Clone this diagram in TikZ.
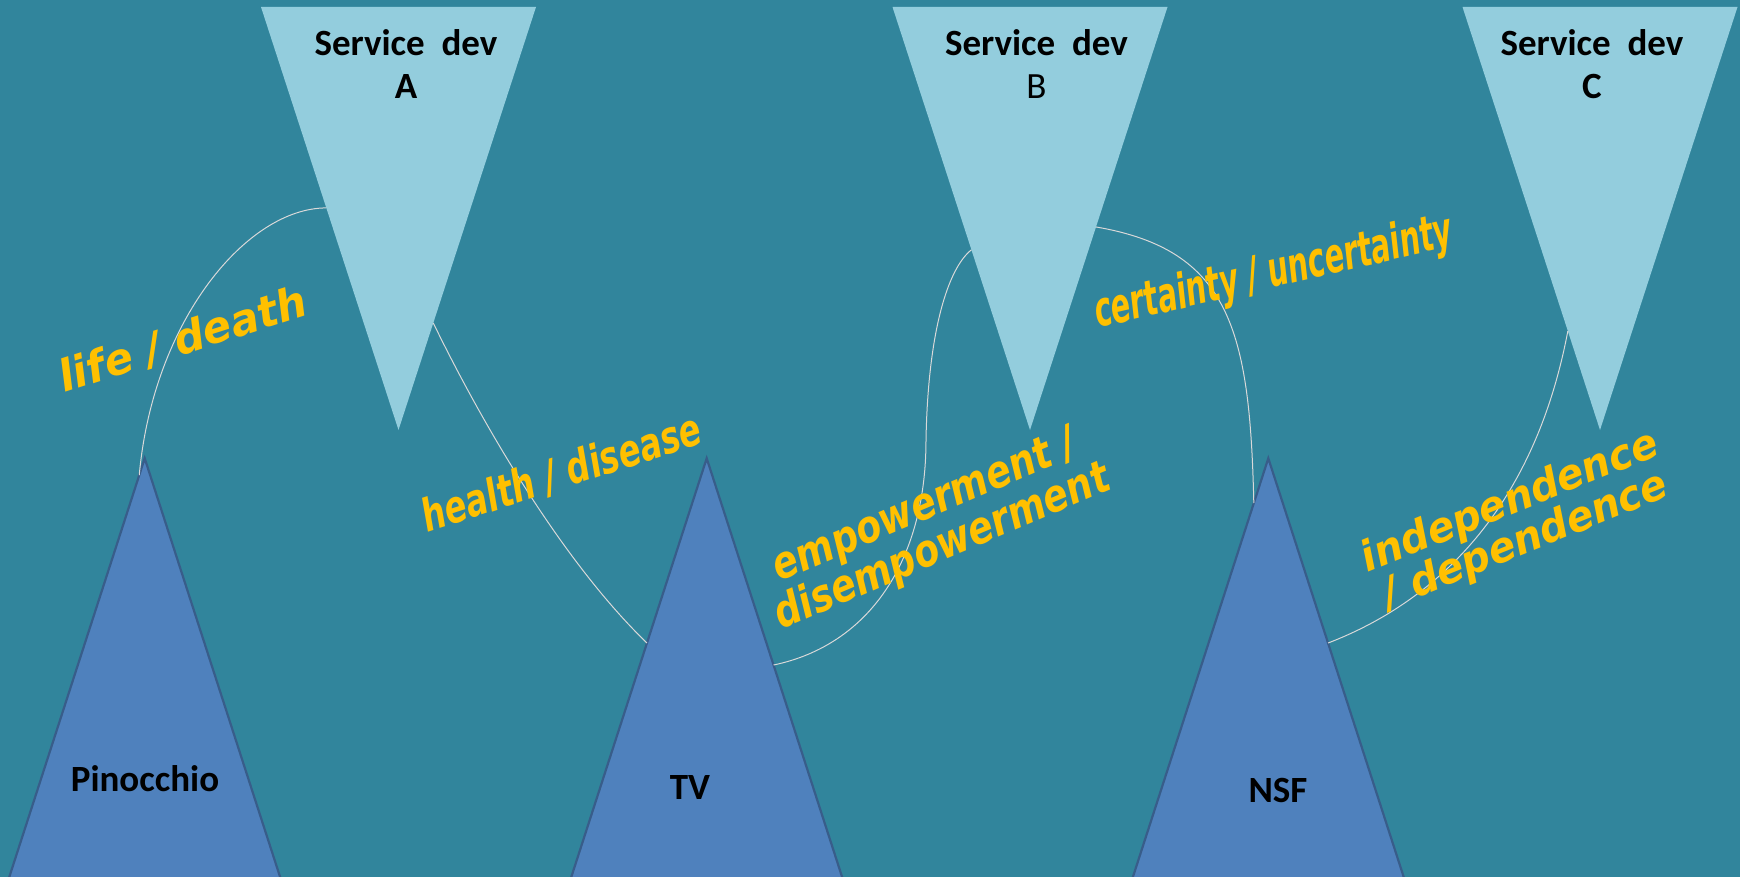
\documentclass[tikz,border=0pt]{standalone}
\usepackage{fontspec}
\setmainfont{Carlito}
\newfontfamily\wordart{DejaVu Sans}
\usetikzlibrary{calc}

\definecolor{sea}{HTML}{31859C}
\definecolor{ice}{HTML}{93CDDD}
\definecolor{steel}{HTML}{4F81BD}
\definecolor{steelline}{HTML}{385D8A}
\definecolor{gold}{HTML}{FFC000}
\definecolor{thread}{HTML}{D9D9D9}

\begin{document}
\begin{tikzpicture}[x=1pt, y=-1pt, inner sep=0pt]


\tikzstyle{downtri} = [fill=ice]
\tikzstyle{uptri} = [fill=steel, draw=steelline, line width=2.2pt]
\tikzstyle{link} = [draw=thread, line width=1pt]
\tikzstyle{devlabel} = [align=center, anchor=north, font=\fontsize{37}{43}\selectfont\bfseries]
\tikzstyle{baselabel} = [anchor=base, font=\fontsize{37}{43}\selectfont\bfseries]
\tikzstyle{pair} = [text=gold, align=center, font=\wordart\fontsize{38}{31.5}\selectfont\bfseries\itshape]

\useasboundingbox (0,0) rectangle (1740,877);
\fill[sea] (0,0) rectangle (1740,877);

% service development
\path[downtri] (261,7) coordinate (A tl) -- (536,7) coordinate (A tr) -- (398.5,430) coordinate (A tip) -- cycle;
\path[downtri] (892.5,7) coordinate (B tl) -- (1167.5,7) coordinate (B tr) -- (1030,430) coordinate (B tip) -- cycle;
\path[downtri] (1462.5,7) coordinate (C tl) -- (1737.5,7) coordinate (C tr) -- (1600,430) coordinate (C tip) -- cycle;

% cases
\path[uptri] (144.7,458.3) coordinate (pin top) -- (281.4,881) coordinate (pin br) -- (8,881) coordinate (pin bl) -- cycle;
\path[uptri] (706.7,458.3) coordinate (tv top) -- (843.4,881) coordinate (tv br) -- (570,881) coordinate (tv bl) -- cycle;
\path[uptri] (1268.3,458.3) coordinate (nsf top) -- (1405,881) coordinate (nsf br) -- (1131.6,881) coordinate (nsf bl) -- cycle;

\coordinate (empower bend) at (926,440);

\draw[link] ($(pin top)!0.04!(pin bl)$) .. controls +(14,-155) and +(-79,0) .. ($(A tl)!0.475!(A tip)$);
\draw[link] ($(A tr)!0.747!(A tip)$) .. controls +(47,97) and +(-86,-83) .. ($(tv top)!0.437!(tv bl)$);
\draw[link] ($(tv top)!0.489!(tv br)$) .. controls +(96,-20) and +(0,120) .. (empower bend)
  .. controls +(2,-110) and +(-23,18) .. ($(B tl)!0.574!(B tip)$);
\draw[link] ($(B tr)!0.52!(B tip)$) .. controls +(134,23) and +(-4,-173) .. ($(nsf top)!0.106!(nsf bl)$);
\draw[link] ($(nsf top)!0.437!(nsf br)$) .. controls +(112,-43) and +(-33,174) .. ($(C tl)!0.766!(C tip)$);


\node[devlabel] (devA) at (406,29) {Service~~dev\\A};
\node[devlabel] (devB) at (1036.5,29) {Service~~dev\\\mdseries B};
\node[devlabel] (devC) at (1592,29) {Service~~dev\\C};

\node[baselabel] (pinocchio) at (145,791) {Pinocchio};
\node[baselabel] (tvname) at (690,799) {TV};
\node[baselabel] (nsfname) at (1278,802) {NSF};

\node[pair, anchor=base west, rotate=17.8, xscale=1.11, yscale=1.14] (lifedeath) at (64,393) {life / death};
\node[pair, anchor=base west, rotate=18, xscale=0.86, yscale=1.18] (health) at (427,533) {health / disease};
\node[pair, rotate=23, xscale=0.97, yscale=1.18] (empower) at (934,528) {empowerment /\\disempowerment};
\node[pair, anchor=base west, rotate=13, xscale=0.76, yscale=1.28] (certainty) at (1098,328) {certainty / uncertainty};
\node[pair, rotate=22, xscale=1.05, yscale=1.1, font=\wordart\fontsize{38}{34.5}\selectfont\bfseries\itshape] (independence) at (1518,522) {independence\\/ dependence};


\end{tikzpicture}
\end{document}
